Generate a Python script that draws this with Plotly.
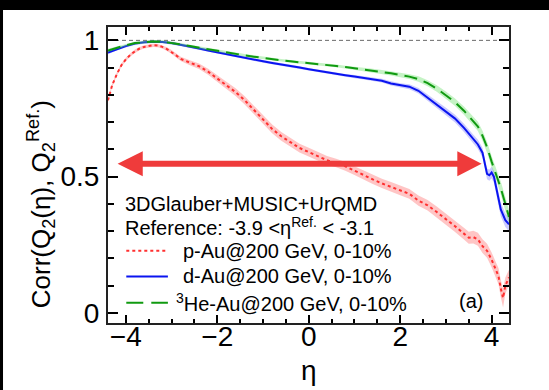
import plotly.graph_objects as go

FONT = "Liberation Sans, Arial, Helvetica, sans-serif"

# ---------------- data ----------------
eta_pAu = [-4.39, -4.3, -4.2, -4.1, -4.0, -3.9, -3.8, -3.7, -3.6, -3.5, -3.4, -3.3, -3.2, -3.1, -3.0, -2.9, -2.8,
           -2.6, -2.4, -2.2, -2.0, -1.8, -1.6, -1.4, -1.2, -1.0, -0.8, -0.6, -0.4, -0.2, 0.0, 0.2, 0.4, 0.6, 0.8,
           1.0, 1.2, 1.4, 1.6, 1.8, 2.0, 2.2, 2.4, 2.6, 2.8, 3.0, 3.2, 3.4,
           3.5, 3.6, 3.7, 3.8, 3.9, 4.0, 4.1, 4.15, 4.2, 4.25, 4.3, 4.38]
corr_pAu = [0.78, 0.835, 0.875, 0.908, 0.93, 0.947, 0.96, 0.97, 0.976, 0.98, 0.982, 0.981, 0.976, 0.968, 0.958, 0.945, 0.932,
            0.918, 0.905, 0.885, 0.86, 0.835, 0.81, 0.78, 0.745, 0.71, 0.675, 0.648, 0.625, 0.605, 0.59, 0.575, 0.56, 0.55, 0.538,
            0.522, 0.505, 0.49, 0.475, 0.462, 0.45, 0.437, 0.412, 0.395, 0.37, 0.345, 0.318, 0.29,
            0.276, 0.278, 0.27, 0.245, 0.228, 0.195, 0.155, 0.135, 0.09, 0.055, 0.1, 0.13]
err_pAu = [0.006, 0.006, 0.006, 0.006, 0.006, 0.006, 0.006, 0.006, 0.006, 0.006, 0.006, 0.006, 0.006, 0.007, 0.007, 0.008, 0.008,
           0.009, 0.01, 0.011, 0.012, 0.013, 0.014, 0.015, 0.015, 0.016, 0.016, 0.016, 0.016, 0.016, 0.016, 0.016, 0.016, 0.016, 0.016,
           0.016, 0.017, 0.017, 0.017, 0.018, 0.018, 0.018, 0.019, 0.019, 0.02, 0.02, 0.021, 0.022,
           0.022, 0.023, 0.024, 0.025, 0.026, 0.027, 0.028, 0.03, 0.032, 0.035, 0.03, 0.028]

eta_dAu = [-4.39, -4.2, -4.0, -3.8, -3.6, -3.4, -3.2, -3.0, -2.8, -2.6, -2.4, -2.2, -2.0, -1.8, -1.6, -1.4, -1.2, -1.0,
           -0.8, -0.6, -0.4, -0.2, 0.0, 0.2, 0.4, 0.6, 0.8, 1.0, 1.2, 1.4, 1.6, 1.8, 2.0, 2.2, 2.4, 2.6, 2.8, 3.0, 3.2,
           3.4, 3.6, 3.7, 3.8, 3.85, 3.9, 3.95, 4.0, 4.05, 4.1, 4.2, 4.3, 4.38]
corr_dAu = [0.955, 0.968, 0.979, 0.988, 0.993, 0.995, 0.994, 0.99, 0.984, 0.977, 0.97, 0.963, 0.956, 0.949, 0.943, 0.937, 0.93, 0.923,
            0.917, 0.912, 0.906, 0.9, 0.894, 0.888, 0.882, 0.877, 0.872, 0.867, 0.862, 0.857, 0.852, 0.842, 0.835, 0.83, 0.815, 0.79, 0.766, 0.74, 0.713,
            0.678, 0.638, 0.618, 0.588, 0.55, 0.51, 0.505, 0.515, 0.5, 0.46, 0.38, 0.34, 0.325]
err_dAu = [0.006, 0.005, 0.005, 0.005, 0.005, 0.005, 0.005, 0.005, 0.005, 0.005, 0.005, 0.005, 0.005, 0.005, 0.005, 0.005, 0.005, 0.005,
           0.005, 0.005, 0.005, 0.005, 0.005, 0.005, 0.005, 0.005, 0.005, 0.006, 0.006, 0.007, 0.007, 0.008, 0.008, 0.009, 0.01, 0.011, 0.012, 0.013, 0.014,
           0.015, 0.016, 0.017, 0.018, 0.019, 0.02, 0.02, 0.021, 0.022, 0.023, 0.025, 0.025, 0.025]

eta_HeAu = [-4.39, -4.2, -4.0, -3.8, -3.6, -3.4, -3.2, -3.0, -2.8, -2.6, -2.4, -2.2, -2.0, -1.8, -1.6, -1.4, -1.2, -1.0,
            -0.8, -0.6, -0.4, -0.2, 0.0, 0.2, 0.4, 0.6, 0.8, 1.0, 1.2, 1.4, 1.6, 1.8, 2.0, 2.2, 2.4, 2.6, 2.8, 3.0, 3.2,
            3.4, 3.6, 3.7, 3.8, 3.9, 4.0, 4.1, 4.2, 4.3, 4.38]
corr_HeAu = [0.963, 0.973, 0.982, 0.99, 0.994, 0.996, 0.995, 0.991, 0.985, 0.979, 0.973, 0.967, 0.961, 0.955, 0.95, 0.945, 0.94, 0.935,
             0.931, 0.927, 0.923, 0.92, 0.916, 0.913, 0.909, 0.906, 0.902, 0.898, 0.894, 0.889, 0.884, 0.879, 0.873, 0.867, 0.858, 0.843, 0.823, 0.799, 0.773,
             0.741, 0.704, 0.684, 0.65, 0.608, 0.555, 0.51, 0.458, 0.4, 0.352]
err_HeAu = [0.006, 0.005, 0.005, 0.005, 0.005, 0.005, 0.005, 0.005, 0.005, 0.005, 0.005, 0.005, 0.005, 0.005, 0.005, 0.005, 0.005, 0.005,
            0.005, 0.005, 0.005, 0.005, 0.005, 0.005, 0.005, 0.005, 0.005, 0.006, 0.006, 0.007, 0.007, 0.008, 0.008, 0.009, 0.01, 0.011, 0.012, 0.013, 0.014,
            0.015, 0.016, 0.017, 0.018, 0.02, 0.021, 0.022, 0.024, 0.025, 0.025]

legend_labels = ["p-Au@200 GeV, 0-10%", "d-Au@200 GeV, 0-10%", "<sup>3</sup>He-Au@200 GeV, 0-10%"]
header_lines = ["3DGlauber+MUSIC+UrQMD", "Reference: -3.9 &lt;η<sup>Ref.</sup> &lt; -3.1"]

# ---------------- styles ----------------
RED, BLUE, GREEN = "#ff3030", "#0a14f0", "#109a10"
RED_BAND, BLUE_BAND, GREEN_BAND = "rgba(255,90,90,0.35)", "rgba(80,80,255,0.30)", "rgba(90,220,90,0.35)"
RED_DASH, GREEN_DASH = "dot", "13px,7px"
ARROW = "#ef3b3b"

fig = go.Figure()


def add_series(x, y, e, color, band, dash):
    lo = [a - b for a, b in zip(y, e)]
    hi = [a + b for a, b in zip(y, e)]
    fig.add_trace(go.Scatter(x=x, y=lo, mode="lines", line=dict(width=0), showlegend=False, hoverinfo="skip"))
    fig.add_trace(go.Scatter(x=x, y=hi, mode="lines", line=dict(width=0), fill="tonexty",
                             fillcolor=band, showlegend=False, hoverinfo="skip"))
    fig.add_trace(go.Scatter(x=x, y=y, mode="lines", line=dict(color=color, width=2, dash=dash), showlegend=False))


add_series(eta_pAu, corr_pAu, err_pAu, RED, RED_BAND, RED_DASH)
add_series(eta_dAu, corr_dAu, err_dAu, BLUE, BLUE_BAND, "solid")
add_series(eta_HeAu, corr_HeAu, err_HeAu, GREEN, GREEN_BAND, GREEN_DASH)

XR = [-4.39, 4.38]
YR = [-0.037, 1.049]

shapes = []
# reference line at 1
shapes.append(dict(type="line", xref="x", yref="y", x0=XR[0], x1=XR[1], y0=1, y1=1,
                   line=dict(color="#6a6a6a", width=1, dash="4px,3px"), layer="below"))
# double-headed arrow
ay, hh = 0.547, 0.046
shapes.append(dict(type="line", xref="x", yref="y", x0=-3.70, x1=3.32, y0=ay, y1=ay,
                   line=dict(color=ARROW, width=6)))
shapes.append(dict(type="path", xref="x", yref="y",
                   path=f"M -4.18 {ay} L -3.63 {ay+hh} L -3.63 {ay-hh} Z",
                   fillcolor=ARROW, line=dict(width=0)))
shapes.append(dict(type="path", xref="x", yref="y",
                   path=f"M 3.78 {ay} L 3.25 {ay+hh} L 3.25 {ay-hh} Z",
                   fillcolor=ARROW, line=dict(width=0)))
# legend samples
leg_y = [0.2285, 0.134, 0.037]
for yy, col, dsh in zip(leg_y, [RED, BLUE, GREEN], [RED_DASH, "solid", "17px,8px"]):
    shapes.append(dict(type="line", xref="x", yref="y", x0=-3.99, x1=-3.08, y0=yy, y1=yy,
                       line=dict(color=col, width=2, dash=dsh)))
# black border of the cropped page
shapes.append(dict(type="rect", xref="paper", yref="paper", x0=-0.5, x1=1.5, y0=1.0574, y1=1.3,
                   fillcolor="black", line=dict(width=0)))
shapes.append(dict(type="rect", xref="paper", yref="paper", x0=-0.5, x1=-0.2618, y0=-0.5, y1=1.3,
                   fillcolor="black", line=dict(width=0)))

annotations = []
tf = dict(family=FONT, size=20, color="black")
annotations.append(dict(x=-4.07, y=0.40, xref="x", yref="y", text=header_lines[0], showarrow=False,
                        xanchor="left", yanchor="middle", font=tf))
annotations.append(dict(x=-4.07, y=0.318, xref="x", yref="y", text=header_lines[1], showarrow=False,
                        xanchor="left", yanchor="middle", font=tf))
annotations.append(dict(x=-2.80, y=leg_y[0], xref="x", yref="y", text=legend_labels[0], showarrow=False,
                        xanchor="left", yanchor="middle", font=tf))
annotations.append(dict(x=-2.80, y=leg_y[1], xref="x", yref="y", text=legend_labels[1], showarrow=False,
                        xanchor="left", yanchor="middle", font=tf))
annotations.append(dict(x=-2.95, y=leg_y[2], xref="x", yref="y", text=legend_labels[2], showarrow=False,
                        xanchor="left", yanchor="middle", font=tf))
annotations.append(dict(x=3.86, y=0.043, xref="x", yref="y", text="(a)", showarrow=False,
                        xanchor="right", yanchor="middle", font=tf))
# axis titles
annotations.append(dict(x=-0.168, y=0.40, xref="paper", yref="paper",
                        text="Corr(Q<sub>2</sub>(η), Q<sub>2</sub><sup>Ref.</sup>)", textangle=-90,
                        showarrow=False, xanchor="center", yanchor="middle",
                        font=dict(family=FONT, size=26, color="black")))
annotations.append(dict(x=0.5005, y=-0.162, xref="paper", yref="paper", text="η", showarrow=False,
                        xanchor="center", yanchor="middle", font=dict(family=FONT, size=28, color="black")))

fig.update_layout(
    width=549, height=390,
    margin=dict(l=108, r=40, t=27, b=67, pad=0),
    paper_bgcolor="white", plot_bgcolor="white",
    showlegend=False,
    shapes=shapes, annotations=annotations,
    xaxis=dict(range=XR, tickmode="linear", tick0=0, dtick=2, ticks="inside", ticklen=8, tickwidth=1.5,
               tickcolor="black", minor=dict(tick0=0, dtick=0.5, ticks="inside", ticklen=4, tickwidth=1.5,
                                             tickcolor="black"),
               showline=True, linecolor="#222", linewidth=2, mirror="ticks", showgrid=False, zeroline=False,
               ticklabelstandoff=-13,
               tickfont=dict(family=FONT, size=28, color="black")),
    yaxis=dict(range=YR, tickmode="linear", tick0=0, dtick=0.5, ticks="inside", ticklen=10, tickwidth=1.5,
               tickcolor="black", minor=dict(tick0=0, dtick=0.1, ticks="inside", ticklen=6, tickwidth=1.5,
                                             tickcolor="black"),
               showline=True, linecolor="#222", linewidth=2, mirror="ticks", showgrid=False, zeroline=False,
               ticklabelstandoff=1,
               tickfont=dict(family=FONT, size=28, color="black")),
)

fig.write_html("out.html")
